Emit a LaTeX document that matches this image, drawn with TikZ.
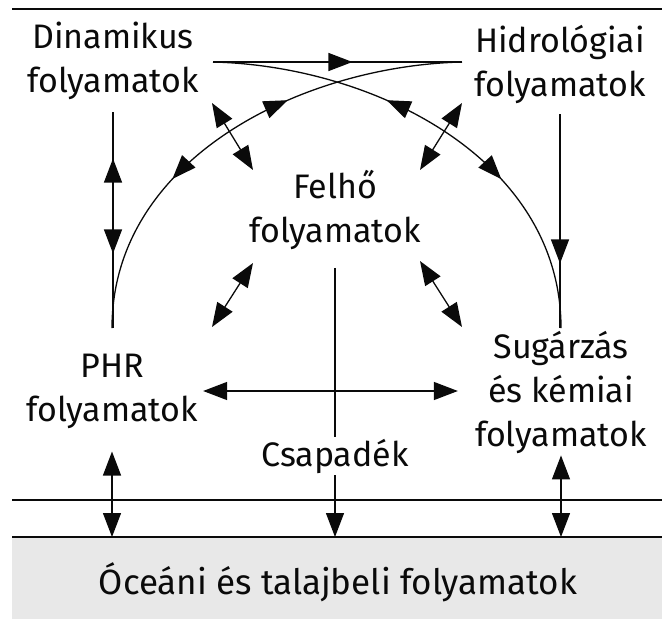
\documentclass[tikz,border=0pt]{standalone}
\usepackage{fontspec}
\setmainfont{Fira Sans}
\usetikzlibrary{arrows.meta, decorations.markings, calc}
\definecolor{groundgray}{RGB}{232,232,232}
\definecolor{inkblack}{RGB}{10,10,10}

\tikzset{
  lbl/.style={font=\fontsize{34}{44}\selectfont, align=center, inner sep=2pt, text=inkblack},
  flow/.style={draw=inkblack, line width=1.3pt},
  dbl/.style={flow, {Triangle[length=24pt, width=18pt]}-{Triangle[length=24pt, width=18pt]}},
  sgl/.style={flow, -{Triangle[length=24pt, width=18pt]}},
  headfwd/.style={postaction={decorate, decoration={markings,
      mark=at position #1 with {\arrow{Triangle[length=24pt, width=18pt]}}}}},
  headback/.style={postaction={decorate, decoration={markings,
      mark=at position #1 with {\arrowreversed{Triangle[length=24pt, width=18pt]}}}}}
}

\begin{document}
\begin{tikzpicture}[x=1pt, y=-1pt]
  \useasboundingbox (0,0) rectangle (662,619);

  % felszin es keretvonalak
  \fill[groundgray] (12,537) rectangle (662,619);
  \draw[inkblack, line width=1.1pt] (12,9) -- (662,9);
  \draw[inkblack, line width=1.1pt] (12,500) -- (662,500);
  \draw[inkblack, line width=2pt] (12,537) -- (662,537);
  \coordinate (surf) at (335,537);

  % folyamatok
  \node[lbl] (dyn)    at (113,61)  {Dinamikus\\folyamatok};
  \node[lbl] (hyd)    at (560,64)  {Hidrológiai\\folyamatok};
  \node[lbl] (cloud)  at (335,210) {Felhő\\folyamatok};
  \node[lbl] (phr)    at (112,391) {PHR\\folyamatok};
  \node[lbl] (rad)    at (561,392) {Sugárzás\\és kémiai\\folyamatok};
  \node[lbl] (precip) at (335,456) {Csapadék};
  \node[lbl, font=\fontsize{35}{44}\selectfont] (ocean) at (338,582) {Óceáni és talajbeli folyamatok};

  % ivek vegpontjai
  \coordinate (dynr) at (213,62);
  \coordinate (hydl) at (462,62);
  \coordinate (phrt) at (112,328);
  \coordinate (radt) at (561,328);

  % felso kapcsolatok
  \draw[flow, headfwd=0.56] (dynr) -- (hydl);
  \draw[flow, headback=0.37, headfwd=0.66]
    (hydl) .. controls (300,66) and (112,160) .. (phrt);
  \draw[flow, headback=0.37, headfwd=0.66]
    (dynr) .. controls (375,66) and (561,160) .. (radt);
  \draw[flow, shorten <=10pt, headback=0.25, headfwd=0.67] (dyn.south) -- (dyn.south |- phrt);
  \draw[flow, shorten <=9pt, headfwd=0.71] (hyd.south) -- (hyd.south |- radt);

  % felho koruli kettos nyilak
  \coordinate (ula) at (212,103); \coordinate (ulb) at (253,170);
  \coordinate (ura) at (462,103); \coordinate (urb) at (420,170);
  \coordinate (lla) at (253,263); \coordinate (llb) at (212,327);
  \coordinate (lra) at (420,261); \coordinate (lrb) at (462,327);
  \draw[dbl] (ula) -- (ulb);
  \draw[dbl] (ura) -- (urb);
  \draw[dbl] (lla) -- (llb);
  \draw[dbl] (lra) -- (lrb);

  % kozepso kapcsolatok
  \draw[flow, shorten <=16pt] (cloud.south) -- (precip.north);
  \draw[dbl, shorten <=3pt, shorten >=15pt] (phr.east) -- (phr.east -| rad.west);
  \draw[sgl] (precip.south) -- (surf);
  \draw[dbl, shorten <=21pt] (phr.south) -- (phr.south |- surf);
  \draw[dbl] (rad.south) -- (rad.south |- surf);
\end{tikzpicture}
\end{document}
